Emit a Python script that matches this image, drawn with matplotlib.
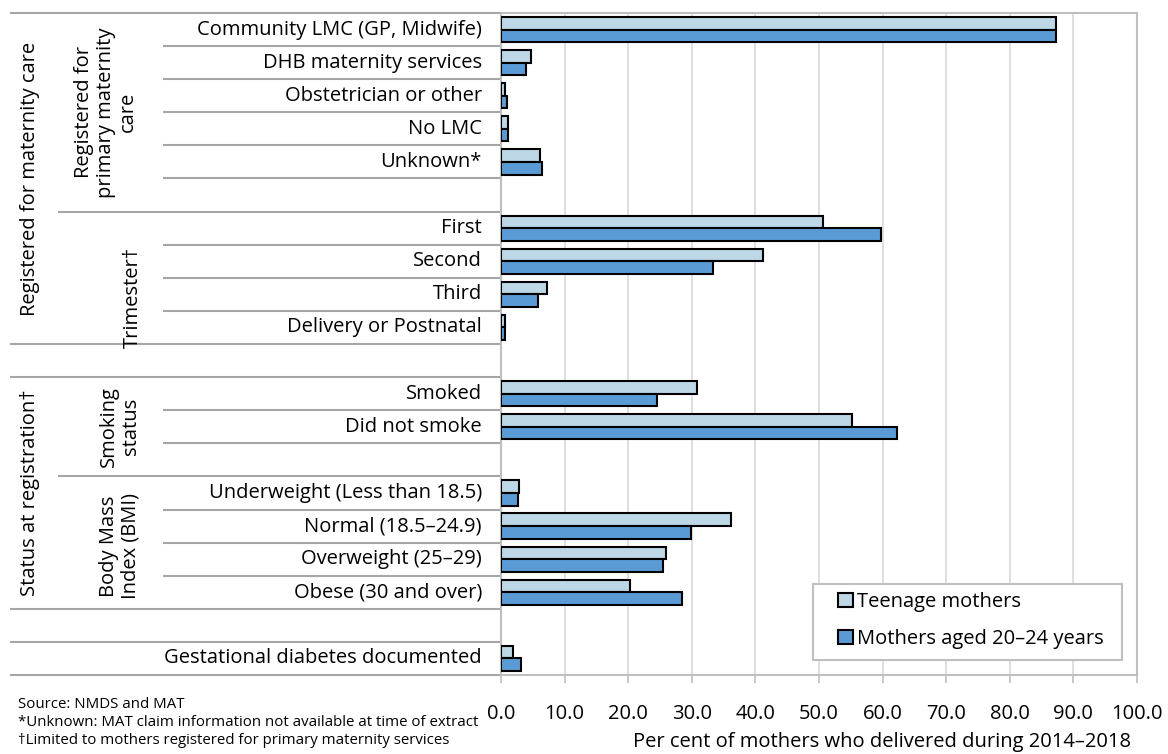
import numpy as np
import matplotlib
matplotlib.use("Agg")
import matplotlib.pyplot as plt
from matplotlib.transforms import blended_transform_factory
from matplotlib.patches import Patch, Rectangle

plt.rcParams['font.family'] = ['Open Sans', 'DejaVu Sans']

# ==========================
# Data
# ==========================
categories = [
    "Community LMC (GP, Midwife)", "DHB maternity services", "Obstetrician or other",
    "No LMC", "Unknown*", "",
    "First", "Second", "Third", "Delivery or Postnatal", "",
    "Smoked", "Did not smoke", "",
    "Underweight (Less than 18.5)", "Normal (18.5–24.9)", "Overweight (25–29)",
    "Obese (30 and over)", "",
    "Gestational diabetes documented",
]
teenage = [87.3, 4.7, 0.6, 1.1, 6.1, np.nan,
           50.7, 41.2, 7.3, 0.6, np.nan,
           30.8, 55.2, np.nan,
           2.8, 36.1, 26.0, 20.3, np.nan,
           1.9]
aged_20_24 = [87.2, 4.0, 1.0, 1.1, 6.5, np.nan,
              59.8, 33.4, 5.8, 0.7, np.nan,
              24.5, 62.2, np.nan,
              2.6, 29.9, 25.4, 28.4, np.nan,
              3.2]
series_names = ["Teenage mothers", "Mothers aged 20–24 years"]
x_ticks = [0, 10, 20, 30, 40, 50, 60, 70, 80, 90, 100]

teen_color = '#bdd7e7'
adult_color = '#5b9bd5'
line_grey = '#a6a6a6'
FS = 14.5

# ==========================
# Plot
# ==========================
fig = plt.figure(figsize=(11.68, 7.54), dpi=100)
ax = fig.add_axes([501/1168, 1 - 675/754, 636/1168, 662/754])

y = np.arange(len(categories))
h = 0.38
ax.barh(y - h/2, teenage, height=h, color=teen_color, edgecolor='black', linewidth=1.5, zorder=3)
ax.barh(y + h/2, aged_20_24, height=h, color=adult_color, edgecolor='black', linewidth=1.5, zorder=3)

ax.set_xlim(0, 100)
ax.set_ylim(len(categories) - 0.5, -0.5)
ax.set_xticks(x_ticks)
ax.set_xticklabels([f"{v:.1f}" for v in x_ticks], fontsize=FS)
ax.set_yticks([])
ax.xaxis.grid(True, color='#d9d9d9', linewidth=1.2, zorder=0)
for s in ax.spines.values():
    s.set_color('#bfbfbf')
    s.set_linewidth(1.5)
ax.tick_params(axis='x', colors='#bfbfbf', length=6, width=1.2, labelcolor='black', pad=15)

# category labels
tr = blended_transform_factory(ax.transAxes, ax.transData)
px = lambda p: (p - 501) / 636
py = lambda p: (675 - p) / 662
for i, lab in enumerate(categories):
    ax.text(px(482), i, lab, transform=tr, ha='right', va='center', fontsize=FS)

# separator lines on the left
starts = {-0.5: 10, 0.5: 163, 1.5: 163, 2.5: 163, 3.5: 163, 4.5: 163, 5.5: 58,
          6.5: 163, 7.5: 163, 8.5: 163, 9.5: 10, 10.5: 10, 11.5: 163, 12.5: 163,
          13.5: 58, 14.5: 163, 15.5: 163, 16.5: 163, 17.5: 10, 18.5: 10, 19.5: 10}
for yy, x0 in starts.items():
    ax.plot([px(x0), 0], [yy, yy], transform=tr, color=line_grey, linewidth=1.5,
            clip_on=False, solid_capstyle='butt')

# group labels
ax.text(px(30), 4.5, "Registered for maternity care", transform=tr, rotation=90,
        ha='center', va='center', fontsize=FS)
ax.text(px(106), 2.5, "Registered for\nprimary maternity\ncare", transform=tr, rotation=90,
        ha='center', va='center', fontsize=FS, linespacing=1.1)
ax.text(px(133), 8.1, "Trimester\u2020", transform=tr, rotation=90,
        ha='center', va='center', fontsize=FS)
ax.text(px(30), 14.0, "Status at registration\u2020", transform=tr, rotation=90,
        ha='center', va='center', fontsize=FS)
ax.text(px(120), 12.0, "Smoking\nstatus", transform=tr, rotation=90,
        ha='center', va='center', fontsize=FS, linespacing=1.1)
ax.text(px(120), 15.6, "Body Mass\nIndex (BMI)", transform=tr, rotation=90,
        ha='center', va='center', fontsize=FS, linespacing=1.1)

# legend with a hand-placed frame
ax.add_patch(Rectangle((px(813), py(660)), px(1122) - px(813), py(584) - py(660),
                       transform=ax.transAxes, facecolor='white', edgecolor='#bfbfbf',
                       linewidth=1.5, zorder=4))
handles = [Patch(facecolor=teen_color, edgecolor='black', linewidth=1.5),
           Patch(facecolor=adult_color, edgecolor='black', linewidth=1.5)]
leg = ax.legend(handles, series_names, loc='upper left', bbox_to_anchor=(px(838), py(592)),
                fontsize=FS, frameon=False, handlelength=0.75, handleheight=0.75,
                handletextpad=0.2, labelspacing=0.85, borderpad=0, borderaxespad=0)
leg.set_zorder(5)

# axis title and footnotes
fig.text(882/1168, 1 - 742/754, "Per cent of mothers who delivered during 2014–2018",
         ha='center', va='center', fontsize=FS)
notes = ["Source: NMDS and MAT",
         "*Unknown: MAT claim information not available at time of extract",
         "\u2020Limited to mothers registered for primary maternity services"]
for k, n in enumerate(notes):
    fig.text(18/1168, 1 - (705 + 18*k)/754, n, ha='left', va='center', fontsize=10.8)

fig.savefig("out.png", dpi=100)
